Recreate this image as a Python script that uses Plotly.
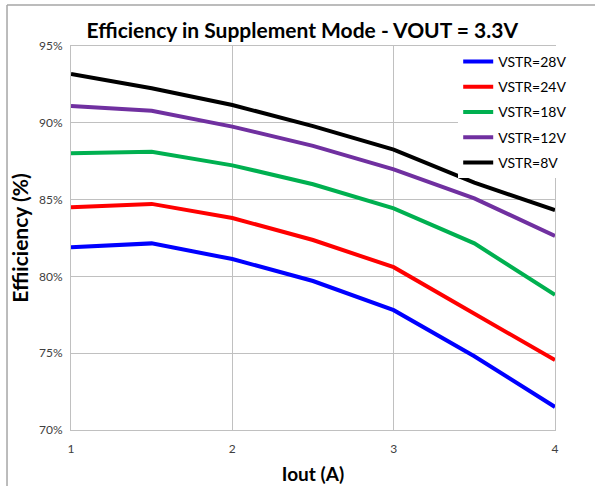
import plotly.graph_objects as go

iout = [1, 1.5, 2, 2.5, 3, 3.5, 4]
series_names = ["VSTR=28V", "VSTR=24V", "VSTR=18V", "VSTR=12V", "VSTR=8V"]
vstr28 = [81.9, 82.15, 81.13, 79.7, 77.8, 74.8, 71.5]
vstr24 = [84.5, 84.72, 83.8, 82.37, 80.6, 77.6, 74.55]
vstr18 = [88.02, 88.12, 87.23, 86.0, 84.43, 82.15, 78.8]
vstr12 = [91.1, 90.78, 89.75, 88.5, 86.97, 85.08, 82.63]
vstr8 = [93.18, 92.25, 91.16, 89.78, 88.25, 86.1, 84.32]
colors = ["#0000FF", "#FF0000", "#00B050", "#7030A0", "#000000"]
y_ticks = [70, 75, 80, 85, 90, 95]
y_tick_labels = ["70%", "75%", "80%", "85%", "90%", "95%"]
x_ticks = [1, 2, 3, 4]

font_main = "Lato, Open Sans, sans-serif"

fig = go.Figure()
for name, vals, col in zip(series_names, [vstr28, vstr24, vstr18, vstr12, vstr8], colors):
    fig.add_trace(go.Scatter(x=iout, y=vals, mode="lines", name=name,
                             legendgroup=name,
                             line=dict(color=col, width=4)))

fig.update_layout(
    width=595, height=486,
    margin=dict(l=71, r=40, t=46, b=56),
    paper_bgcolor="white", plot_bgcolor="white",
    title=dict(text="<b>Efficiency in Supplement Mode - VOUT = 3.3V</b>",
               x=0.508, xanchor="center", y=0.936, yanchor="middle",
               font=dict(family=font_main, size=21, color="black")),
    legend=dict(x=0.8, y=1.0, xanchor="left", yanchor="top",
                bgcolor="white", borderwidth=0,
                font=dict(family=font_main, size=14, color="black"),
                tracegroupgap=4, itemwidth=30),
    xaxis=dict(range=[1, 4], tickvals=x_ticks, showgrid=True, automargin=False,
               gridcolor="#C0C0C0", gridwidth=1,
               showline=True, linecolor="#C0C0C0", mirror=True,
               ticks="", ticklen=0, ticklabelstandoff=8,
               tickfont=dict(family=font_main, size=12, color="#404040"),
               title=dict(text="<b>Iout (A)</b>", standoff=12,
                          font=dict(family=font_main, size=19, color="black"))),
    yaxis=dict(range=[70, 95], tickvals=y_ticks, ticktext=y_tick_labels,
               showgrid=True, gridcolor="#C0C0C0", gridwidth=1, automargin=False,
               showline=True, linecolor="#C0C0C0", mirror=True,
               ticks="", ticklen=0, ticklabelstandoff=5,
               tickfont=dict(family=font_main, size=12, color="#404040"),
               title=dict(text="<b>Effiiciency (%)</b>", standoff=4,
                          font=dict(family=font_main, size=21, color="black"))),
    showlegend=True,
)

# outer frame lines (left and top)
fig.add_shape(type="line", xref="paper", yref="paper",
              x0=-0.1322, x1=-0.1322, y0=-0.15, y1=1.1068,
              line=dict(color="#A6A6A6", width=1.5))
fig.add_shape(type="line", xref="paper", yref="paper",
              x0=-0.1322, x1=1.1, y0=1.1068, y1=1.1068,
              line=dict(color="#A6A6A6", width=1.5))

fig.write_html("out.html", config={"displayModeBar": False},
               post_script="document.body.style.margin='0';")
